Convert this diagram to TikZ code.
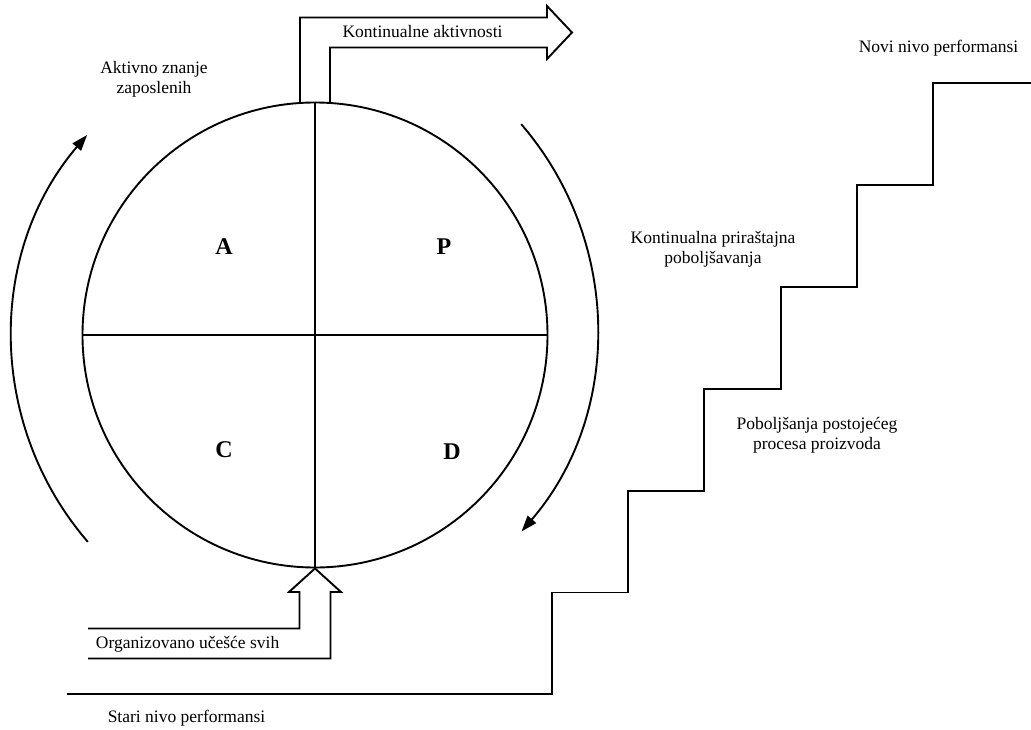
\documentclass[tikz,border=0pt]{standalone}
\usepackage{fontspec}
\setmainfont{Liberation Serif}
\usetikzlibrary{arrows.meta,calc}
\begin{document}
\begin{tikzpicture}[x=1pt,y=1pt,
  line width=1.9pt, line join=miter,
  lbl/.style={font=\fontsize{17.5}{20}\selectfont, inner sep=0pt, align=center},
  quad/.style={font=\fontsize{24}{28}\selectfont\bfseries, inner sep=0pt},
  cyc/.style={-{Triangle[length=16pt,width=11pt]}},
]
\useasboundingbox (0,0) rectangle (1031,-730);

% PDCA wheel
\node[circle, draw, minimum size=465pt, inner sep=0pt] (circ) at (315,-335) {};
\draw (circ.north) -- (circ.south);
\draw (circ.west) -- (circ.east);
\node[quad] (qA) at (224,-247) {A};
\node[quad] (qP) at (444,-247) {P};
\node[quad] (qC) at (224,-450) {C};
\node[quad] (qD) at (452,-452) {D};

% block arrow leaving the wheel at the top
\draw (300,-103) -- (300,-17.5) -- (547,-17.5) -- (547,-6) -- (572,-32.5)
      -- (547,-59) -- (547,-47.5) -- (330,-47.5) -- (330,-103);
\node[lbl, anchor=base] (cont) at (422.5,-37.5) {Kontinualne aktivnosti};

% block arrow entering the wheel at the bottom
\draw (88,-628.5) -- (299.5,-628.5) -- (299.5,-592) -- (289,-592) -- (circ.south)
      -- (341,-592) -- (330.5,-592) -- (330.5,-658.5) -- (88,-658.5);
\node[lbl, anchor=base west] (org) at (95,-648) {Organizovano učešće svih};

% rotation arcs around the wheel
\draw[cyc] (324,-338) ++(220.8:312) arc[start angle=220.8, end angle=139.4, radius=312];
\draw[cyc] (285,-328) ++(40.8:312) arc[start angle=40.8, end angle=-40.7, radius=312];
% (base of a multi-line node = baseline of its last line)
\node[lbl, anchor=base] (know) at (154,-94) {Aktivno znanje\\zaposlenih};
\node[lbl, anchor=base] (incr) at (713,-263) {Kontinualna priraštajna\\poboljšavanja};

% staircase of performance levels
\draw (67,-694) -- (552,-694) -- (552,-592.5) -- (628,-592.5) -- (628,-491)
      -- (704,-491) -- (704,-389) -- (781,-389) -- (781,-287) -- (857,-287)
      -- (857,-185) -- (933,-185) -- (933,-83) -- (1031,-83);
\node[lbl, anchor=base] (old) at (186.5,-722) {Stari nivo performansi};
\node[lbl, anchor=base] (new) at (938.5,-53) {Novi nivo performansi};
\node[lbl, anchor=base] (proc) at (817,-449) {Poboljšanja postojećeg\\procesa proizvoda};
\end{tikzpicture}
\end{document}
